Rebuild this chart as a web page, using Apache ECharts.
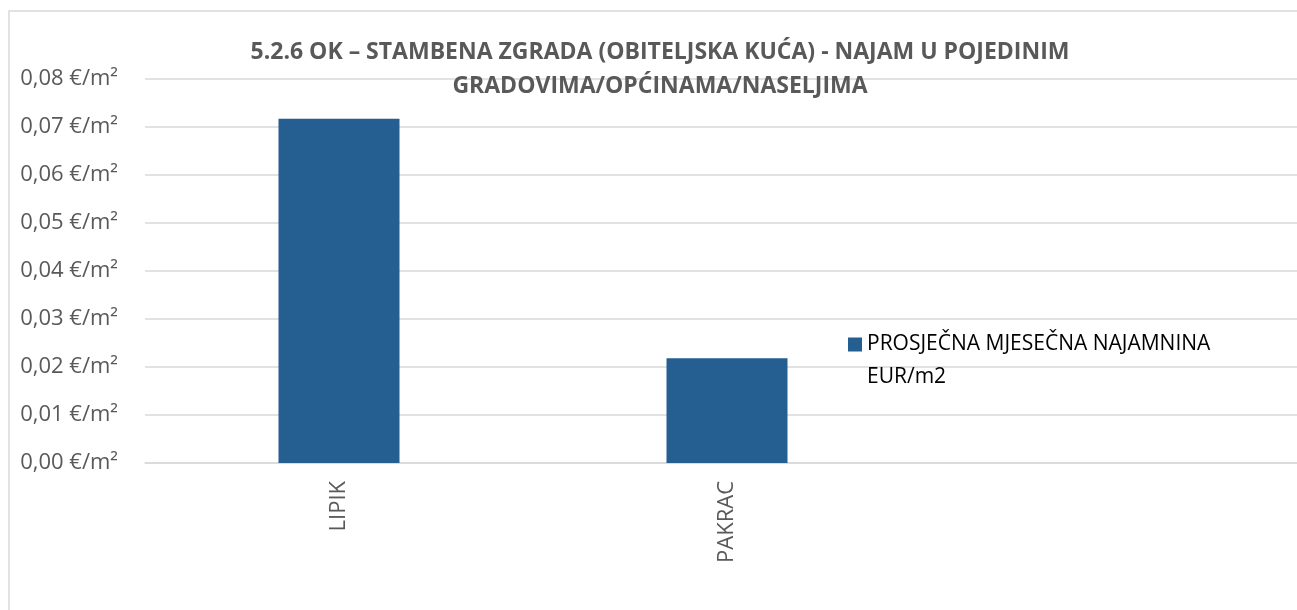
<!DOCTYPE html>
<html>
<head>
<meta charset="utf-8">
<script src="https://cdn.jsdelivr.net/npm/echarts@6/dist/echarts.min.js"></script>
<style>
  html, body { margin: 0; padding: 0; background: #fff; }
  #chart { width: 1297px; height: 610px; }
</style>
</head>
<body>
<div id="chart"></div>
<script>
var cities = ['LIPIK', 'PAKRAC', ''];
var rent = [0.0717, 0.0218, null];
var seriesName = 'PROSJEČNA MJESEČNA NAJAMNINA\nEUR/m2';
var titleText = '5.2.6 OK – STAMBENA ZGRADA (OBITELJSKA KUĆA) - NAJAM U POJEDINIM\nGRADOVIMA/OPĆINAMA/NASELJIMA';

var myChart = echarts.init(document.getElementById('chart'));

var option = {
    animation: false,
    textStyle: { fontFamily: 'Open Sans' },
    graphic: [{
        type: 'rect',
        shape: { x: 9, y: 11, width: 1400, height: 700 },
        style: { fill: 'none', stroke: '#d9d9d9', lineWidth: 1.5 },
        silent: true
    }],
    title: {
        text: titleText,
        left: 655,
        textAlign: 'center',
        top: 30,
        textStyle: {
            fontSize: 23,
            fontWeight: 'bold',
            color: '#595959',
            lineHeight: 34
        }
    },
    legend: {
        orient: 'vertical',
        left: 848,
        top: 295,
        padding: 0,
        itemWidth: 14,
        itemHeight: 14,
        textStyle: {
            fontSize: 21,
            color: '#000',
            lineHeight: 33
        },
        // empty first line keeps the square level with the first text line
        formatter: function (name) {
            return '\n' + name;
        },
        data: [{ name: seriesName, icon: 'rect' }]
    },
    grid: {
        left: 145,
        width: 1164,
        top: 79,
        bottom: 147,
        containLabel: false,
        outerBoundsMode: 'none'
    },
    xAxis: {
        type: 'category',
        data: cities,
        axisTick: { show: false },
        axisLine: { lineStyle: { color: '#d9d9d9', width: 1.5 } },
        axisLabel: {
            rotate: 90,
            margin: 18,
            fontSize: 22,
            color: '#595959'
        }
    },
    yAxis: {
        type: 'value',
        min: 0,
        max: 0.08,
        interval: 0.01,
        axisLine: { show: false },
        axisTick: { show: false },
        splitLine: { lineStyle: { color: '#d9d9d9', width: 1.5 } },
        axisLabel: {
            margin: 27,
            fontSize: 22,
            color: '#595959',
            formatter: function (v) {
                return v.toFixed(2).replace('.', ',') + ' €/m²';
            }
        }
    },
    series: [{
        name: seriesName,
        type: 'bar',
        data: rent,
        barWidth: 121,
        itemStyle: { color: '#255e91' }
    }]
};

myChart.setOption(option);
</script>
</body>
</html>
